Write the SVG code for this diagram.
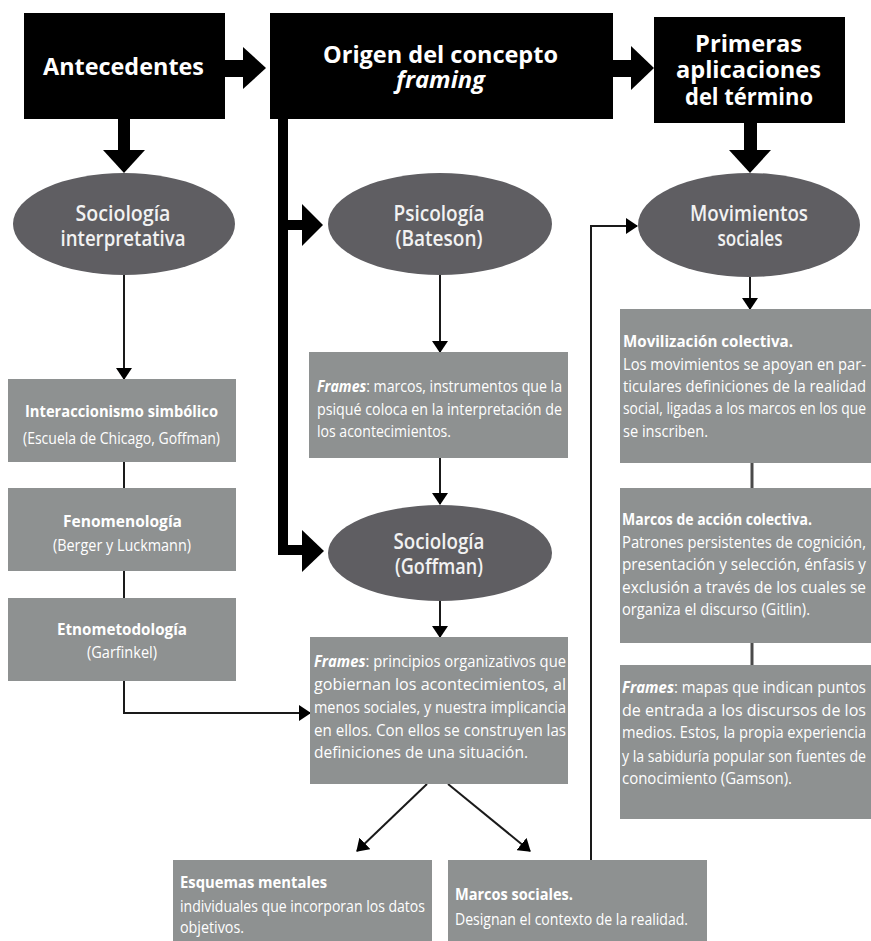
<svg xmlns="http://www.w3.org/2000/svg" width="871" height="941" viewBox="0 0 871 941">
<style>
text{font-family:"Open Sans","Liberation Sans",sans-serif;fill:#ffffff}
.hd{font-size:24px;font-weight:bold}
.el{font-size:22px;font-weight:600;fill:#f2f2f2}
.bx{font-size:16px}
.b{font-weight:bold}
.fi{font-weight:bold;font-style:italic}
.box{fill:#8e9191}
.ell{fill:#5f5e62}
.hbox{fill:#000000}
.thin{fill:none;stroke:#1a1a1a;stroke-width:2}
.conn{fill:none;stroke:#4a4a4a;stroke-width:3}
.thick{fill:none;stroke:#000;stroke-width:10}
</style>
<defs>
<marker id="ah" markerUnits="userSpaceOnUse" markerWidth="12" markerHeight="16" refX="11" refY="8" orient="auto">
<path d="M0,0 L12,8 L0,16 Z" fill="#000"/>
</marker>
</defs>
<rect width="871" height="941" fill="#ffffff"/>

<g id="connectors">
<rect x="224" y="60" width="21" height="17" fill="#000"/>
<polygon points="243,47 266,68 243,89" fill="#000"/>
<rect x="612" y="60" width="21" height="17" fill="#000"/>
<polygon points="631,46 654,68 631,90" fill="#000"/>
<rect x="118" y="118" width="12" height="34" fill="#000"/>
<polygon points="103,150 145,150 124,173" fill="#000"/>
<rect x="744" y="122" width="13" height="30" fill="#000"/>
<polygon points="729,150 771,150 750,173" fill="#000"/>
<path class="thick" d="M283,118 V550 H305"/>
<path class="thick" d="M283,225 H305" stroke-width="9"/>
<polygon points="302,204 323,225 302,246" fill="#000"/>
<polygon points="302,530 324,551 302,572" fill="#000"/>
<path class="thin" d="M124,275 V379" marker-end="url(#ah)"/>
<path class="thin" d="M124,462 V488"/>
<path class="thin" d="M124,571 V598"/>
<path class="thin" d="M124,681 V713 H310" marker-end="url(#ah)"/>
<path class="thin" d="M440,275 V352" marker-end="url(#ah)"/>
<path class="thin" d="M440,458 V504" marker-end="url(#ah)"/>
<path class="thin" d="M440,601 V637" marker-end="url(#ah)"/>
<path class="thin" d="M750,277 V309" marker-end="url(#ah)"/>
<path class="conn" d="M752,463 V488"/>
<path class="conn" d="M752,643 V665"/>
<path class="thin" d="M427,784 L357,851" marker-end="url(#ah)"/>
<path class="thin" d="M448,784 L530,851" marker-end="url(#ah)"/>
<path class="thin" d="M591,860 V226 H637" marker-end="url(#ah)"/>
</g>

<g id="antecedentes">
<rect class="hbox" x="24" y="13" width="201" height="106"/>
<text class="hd" x="43" y="75" textLength="161" lengthAdjust="spacingAndGlyphs">Antecedentes</text>
</g>
<g id="origen">
<rect class="hbox" x="270" y="13" width="343" height="106"/>
<text class="hd" x="323" y="63" textLength="235" lengthAdjust="spacingAndGlyphs">Origen del concepto</text>
<text class="hd" x="396" y="88" font-style="italic" textLength="89" lengthAdjust="spacingAndGlyphs">framing</text>
</g>
<g id="primeras">
<rect class="hbox" x="654" y="17" width="191" height="106"/>
<text class="hd" x="695" y="52" textLength="107" lengthAdjust="spacingAndGlyphs">Primeras</text>
<text class="hd" x="676" y="78" textLength="145" lengthAdjust="spacingAndGlyphs">aplicaciones</text>
<text class="hd" x="685" y="105" textLength="128" lengthAdjust="spacingAndGlyphs">del término</text>
</g>

<g id="soc-interpretativa">
<ellipse class="ell" cx="124" cy="224" rx="111" ry="51"/>
<text class="el" x="123" y="221" text-anchor="middle" textLength="95" lengthAdjust="spacingAndGlyphs">Sociología</text>
<text class="el" x="123" y="246" text-anchor="middle" textLength="125" lengthAdjust="spacingAndGlyphs">interpretativa</text>
</g>
<g id="psicologia">
<ellipse class="ell" cx="440" cy="224" rx="112" ry="51"/>
<text class="el" x="439" y="221" text-anchor="middle" textLength="91" lengthAdjust="spacingAndGlyphs">Psicología</text>
<text class="el" x="439" y="246" text-anchor="middle" textLength="87" lengthAdjust="spacingAndGlyphs">(Bateson)</text>
</g>
<g id="movimientos">
<ellipse class="ell" cx="749" cy="225" rx="111" ry="52"/>
<text class="el" x="749" y="221" text-anchor="middle" textLength="118" lengthAdjust="spacingAndGlyphs">Movimientos</text>
<text class="el" x="750" y="246" text-anchor="middle" textLength="65" lengthAdjust="spacingAndGlyphs">sociales</text>
</g>
<g id="soc-goffman">
<ellipse class="ell" cx="440" cy="553" rx="112" ry="48"/>
<text class="el" x="439" y="549" text-anchor="middle" textLength="91" lengthAdjust="spacingAndGlyphs">Sociología</text>
<text class="el" x="439" y="574" text-anchor="middle" textLength="88" lengthAdjust="spacingAndGlyphs">(Goffman)</text>
</g>

<g id="interaccionismo">
<rect class="box" x="8" y="379" width="228" height="83"/>
<text class="bx b" x="25" y="417" textLength="193" lengthAdjust="spacingAndGlyphs">Interaccionismo simbólico</text>
<text class="bx" x="23" y="444" textLength="197" lengthAdjust="spacingAndGlyphs">(Escuela de Chicago, Goffman)</text>
</g>
<g id="fenomenologia">
<rect class="box" x="8" y="488" width="228" height="83"/>
<text class="bx b" x="63" y="527" textLength="119" lengthAdjust="spacingAndGlyphs">Fenomenología</text>
<text class="bx" x="53" y="551" textLength="138" lengthAdjust="spacingAndGlyphs">(Berger y Luckmann)</text>
</g>
<g id="etnometodologia">
<rect class="box" x="8" y="598" width="228" height="83"/>
<text class="bx b" x="57" y="635" textLength="130" lengthAdjust="spacingAndGlyphs">Etnometodología</text>
<text class="bx" x="87" y="658" textLength="70" lengthAdjust="spacingAndGlyphs">(Garfinkel)</text>
</g>

<g id="frames-bateson">
<rect class="box" x="309" y="352" width="259" height="106"/>
<text class="bx" x="317" y="392" textLength="245" lengthAdjust="spacingAndGlyphs"><tspan class="fi">Frames</tspan>: marcos, instrumentos que la</text>
<text class="bx" x="317" y="415" textLength="245" lengthAdjust="spacingAndGlyphs">psiqué coloca en la interpretación de</text>
<text class="bx" x="317" y="437" textLength="134" lengthAdjust="spacingAndGlyphs">los acontecimientos.</text>
</g>

<g id="frames-goffman">
<rect class="box" x="310" y="637" width="258" height="147"/>
<text class="bx" x="314" y="667" textLength="252" lengthAdjust="spacingAndGlyphs"><tspan class="fi">Frames</tspan>: principios organizativos que</text>
<text class="bx" x="314" y="690" textLength="252" lengthAdjust="spacingAndGlyphs">gobiernan los acontecimientos, al</text>
<text class="bx" x="314" y="713" textLength="252" lengthAdjust="spacingAndGlyphs">menos sociales, y nuestra implicancia</text>
<text class="bx" x="314" y="736" textLength="252" lengthAdjust="spacingAndGlyphs">en ellos. Con ellos se construyen las</text>
<text class="bx" x="314" y="758" textLength="214" lengthAdjust="spacingAndGlyphs">definiciones de una situación.</text>
</g>

<g id="movilizacion">
<rect class="box" x="620" y="309" width="251" height="154"/>
<text class="bx b" x="623" y="347" textLength="170" lengthAdjust="spacingAndGlyphs">Movilización colectiva.</text>
<text class="bx" x="623" y="370" textLength="243" lengthAdjust="spacingAndGlyphs">Los movimientos se apoyan en par-</text>
<text class="bx" x="623" y="392" textLength="243" lengthAdjust="spacingAndGlyphs">ticulares definiciones de la realidad</text>
<text class="bx" x="623" y="414" textLength="243" lengthAdjust="spacingAndGlyphs">social, ligadas a los marcos en los que</text>
<text class="bx" x="623" y="437" textLength="85" lengthAdjust="spacingAndGlyphs">se inscriben.</text>
</g>

<g id="marcos-accion">
<rect class="box" x="620" y="488" width="251" height="155"/>
<text class="bx b" x="622" y="525" textLength="190" lengthAdjust="spacingAndGlyphs">Marcos de acción colectiva.</text>
<text class="bx" x="622" y="548" textLength="244" lengthAdjust="spacingAndGlyphs">Patrones persistentes de cognición,</text>
<text class="bx" x="622" y="570" textLength="244" lengthAdjust="spacingAndGlyphs">presentación y selección, énfasis y</text>
<text class="bx" x="622" y="593" textLength="244" lengthAdjust="spacingAndGlyphs">exclusión a través de los cuales se</text>
<text class="bx" x="622" y="615" textLength="188" lengthAdjust="spacingAndGlyphs">organiza el discurso (Gitlin).</text>
</g>

<g id="frames-gamson">
<rect class="box" x="620" y="665" width="251" height="154"/>
<text class="bx" x="622" y="693" textLength="244" lengthAdjust="spacingAndGlyphs"><tspan class="fi">Frames</tspan>: mapas que indican puntos</text>
<text class="bx" x="622" y="716" textLength="244" lengthAdjust="spacingAndGlyphs">de entrada a los discursos de los</text>
<text class="bx" x="622" y="738" textLength="244" lengthAdjust="spacingAndGlyphs">medios. Estos, la propia experiencia</text>
<text class="bx" x="622" y="762" textLength="244" lengthAdjust="spacingAndGlyphs">y la sabiduría popular son fuentes de</text>
<text class="bx" x="622" y="784" textLength="170" lengthAdjust="spacingAndGlyphs">conocimiento (Gamson).</text>
</g>

<g id="esquemas">
<rect class="box" x="173" y="860" width="259" height="81"/>
<text class="bx b" x="180" y="888" textLength="147" lengthAdjust="spacingAndGlyphs">Esquemas mentales</text>
<text class="bx" x="180" y="912" textLength="245" lengthAdjust="spacingAndGlyphs">individuales que incorporan los datos</text>
<text class="bx" x="180" y="933" textLength="64" lengthAdjust="spacingAndGlyphs">objetivos.</text>
</g>

<g id="marcos-sociales">
<rect class="box" x="448" y="860" width="259" height="81"/>
<text class="bx b" x="455" y="900" textLength="118" lengthAdjust="spacingAndGlyphs">Marcos sociales.</text>
<text class="bx" x="455" y="925" textLength="233" lengthAdjust="spacingAndGlyphs">Designan el contexto de la realidad.</text>
</g>
</svg>
